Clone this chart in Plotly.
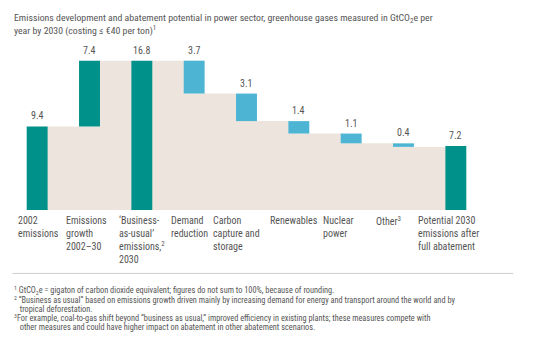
import plotly.graph_objects as go

categories = [
    "2002<br>emissions",
    "Emissions<br>growth<br>2002–30",
    "‘Business-<br>as-usual’<br>emissions,<sup>2</sup><br>2030",
    "Demand<br>reduction",
    "Carbon<br>capture and<br>storage",
    "Renewables",
    "Nuclear<br>power",
    "Other<sup>3</sup>",
    "Potential 2030<br>emissions after<br>full abatement",
]
values = [9.4, 7.4, 16.8, 3.7, 3.1, 1.4, 1.1, 0.4, 7.2]
kinds = ["total", "increase", "total", "decrease", "decrease", "decrease", "decrease", "decrease", "total"]
value_labels = ["9.4", "7.4", "16.8", "3.7", "3.1", "1.4", "1.1", "0.4", "7.2"]

title_lines = [
    "Emissions development and abatement potential in power sector, greenhouse gases measured in GtCO<sub>2</sub>e per",
    "year by 2030 (costing ≤ €40 per ton)<sup>1</sup>",
]
footnotes = [
    "<sup>1</sup> GtCO<sub>2</sub>e = gigaton of carbon dioxide equivalent; figures do not sum to 100%, because of rounding.",
    "<sup>2</sup> “Business as usual” based on emissions growth driven mainly by increasing demand for energy and transport around the world and by",
    "   tropical deforestation.",
    "<sup>3</sup>For example, coal-to-gas shift beyond “business as usual,” improved efficiency in existing plants; these measures compete with",
    "   other measures and could have higher impact on abatement in other abatement scenarios.",
]

TEAL = "#00918A"
BLUE = "#4DB5D3"
BEIGE = "#EDE5DD"
GRAY = "#555555"
FONT = "Roboto Condensed, Liberation Sans Narrow, Arial Narrow, sans-serif"

bases, tops, after = [], [], []
level = 0.0
for v, k in zip(values, kinds):
    if k == "total":
        b, t = 0.0, v
        level = v
    elif k == "increase":
        b, t = level, level + v
        level = level + v
    else:
        b, t = level - v, level
        level = level - v
    bases.append(b)
    tops.append(t)
    after.append(level)

W = 0.40
n = len(values)
xs = list(range(n))

fig = go.Figure()
gap_x = [i + 0.5 for i in range(n - 1)]
gap_y = [after[i] for i in range(n - 1)]
fig.add_trace(go.Bar(x=gap_x, y=gap_y, width=1 - W + 0.02, marker=dict(color=BEIGE, line=dict(width=0)),
                     hoverinfo="skip", showlegend=False))
under_x = [i for i in xs if kinds[i] != "total"]
under_y = [bases[i] for i in under_x]
fig.add_trace(go.Bar(x=under_x, y=under_y, width=W + 0.02, marker=dict(color=BEIGE, line=dict(width=0)),
                     hoverinfo="skip", showlegend=False))

colors = [TEAL if k in ("total", "increase") else BLUE for k in kinds]
fig.add_trace(go.Bar(x=xs, y=[t - b for t, b in zip(tops, bases)], base=bases, width=W,
                     marker=dict(color=colors, line=dict(width=0)), showlegend=False))

# page body has an 8px margin; lay out in figure pixels
OFF = 8
FW, FH = 545 - OFF, 360 - OFF
L = 11.4 - OFF
T = 50.3 - OFF
B = FH - (210 - OFF)
R = FW - (481.8 - OFF)
PW, PH = FW - L - R, FH - T - B

def pxx(x):  # window pixel -> paper x
    return (x - OFF - L) / PW

def pyy(y):  # window pixel -> paper y
    return (FH - B - (y - OFF)) / PH

ann = []
for t, y in zip(title_lines, [18.5, 31.0]):
    ann.append(dict(x=pxx(12), y=pyy(y), xref="paper", yref="paper", text=t, showarrow=False,
                    xanchor="left", yanchor="middle", align="left",
                    font=dict(size=9.8, color=GRAY, family=FONT)))
for i in xs:
    ann.append(dict(x=i, y=tops[i], xref="x", yref="y", text=value_labels[i], showarrow=False,
                    yanchor="bottom", yshift=3, font=dict(size=10, color=GRAY, family=FONT)))
label_shift = [5, 1, 1, 1, -9, -5, -4, -3, -14]
for i in xs:
    ann.append(dict(x=i - 0.5, y=0, xref="x", yref="y", text=categories[i], showarrow=False,
                    xanchor="left", yanchor="top", align="left", yshift=-3, xshift=label_shift[i],
                    font=dict(size=10, color=GRAY, family=FONT)))
foot_y = [290.3, 299.5, 308.5, 317.5, 326.5]
for t, y in zip(footnotes, foot_y):
    ann.append(dict(x=pxx(12), y=pyy(y), xref="paper", yref="paper", text=t, showarrow=False,
                    xanchor="left", yanchor="middle", align="left",
                    font=dict(size=8.3, color=GRAY, family=FONT)))

fig.update_layout(
    width=FW, height=FH,
    margin=dict(l=L, r=R, t=T, b=B, autoexpand=False),
    paper_bgcolor="white", plot_bgcolor="white",
    barmode="overlay",
    xaxis=dict(range=[-0.5, n - 0.5], visible=False, fixedrange=True),
    yaxis=dict(range=[0, 18], visible=False, fixedrange=True),
    annotations=ann,
    shapes=[dict(type="line", xref="paper", yref="paper", x0=pxx(13), x1=pxx(513),
                 y0=pyy(273.3), y1=pyy(273.3), line=dict(color="#CCCCCC", width=1))],
    font=dict(family=FONT),
)

fig.write_html("out.html")
